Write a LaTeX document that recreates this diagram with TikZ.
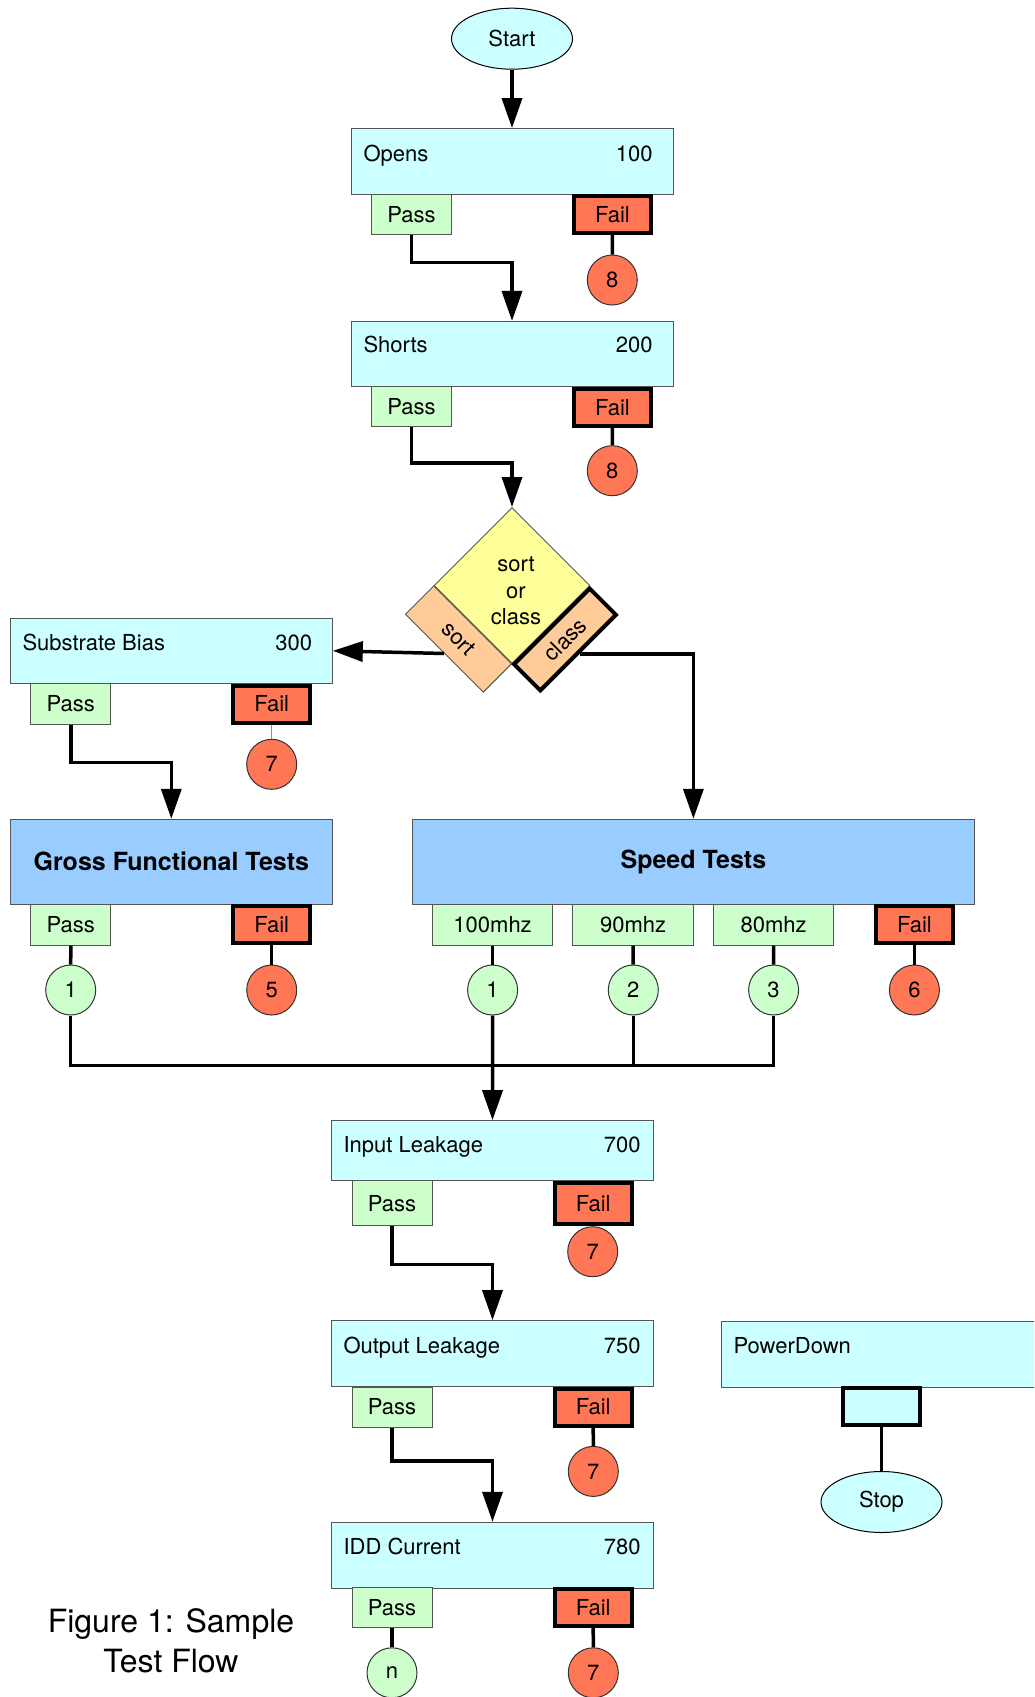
\documentclass[tikz,border=0pt]{standalone}
\usepackage{fontspec}
\setmainfont{TeX Gyre Heros}
\usetikzlibrary{arrows.meta,shapes.geometric}
\definecolor{testcyan}{HTML}{CCFFFF}
\definecolor{passgreen}{HTML}{CCFFCC}
\definecolor{failred}{HTML}{FF7755}
\definecolor{groupblue}{HTML}{99CCFF}
\definecolor{askyellow}{HTML}{FFFF99}
\definecolor{tabtan}{HTML}{FFCC99}
\definecolor{boxgray}{HTML}{555555}
\definecolor{wireblue}{HTML}{6699CC}
\tikzset{
  testbox/.style={draw=boxgray, line width=1pt, fill=testcyan, minimum width=322pt, minimum height=65.5pt, inner sep=0pt},
  boxtext/.style={inner sep=0pt},
  passbox/.style={draw=boxgray, line width=1pt, fill=passgreen, minimum width=80pt, minimum height=40pt, inner sep=0pt},
  failbox/.style={draw=black, line width=4pt, fill=failred, minimum width=77pt, minimum height=37pt, inner sep=0pt},
  passdot/.style={circle, draw=black!80, line width=1pt, fill=passgreen, minimum size=50pt, inner sep=0pt},
  faildot/.style={circle, draw=black!80, line width=1pt, fill=failred, minimum size=50pt, inner sep=0pt},
  groupbox/.style={draw=boxgray, line width=1pt, fill=groupblue, minimum height=85pt, font=\bfseries\fontsize{25}{30}\selectfont},
  terminal/.style={ellipse, draw, line width=1pt, fill=testcyan, minimum width=121pt, minimum height=61pt},
  decision/.style={draw=boxgray, line width=1pt, fill=askyellow, minimum size=110pt, rotate=45},
  choicetab/.style={draw=boxgray, line width=1pt, fill=tabtan, minimum width=110pt, minimum height=40pt, inner sep=0pt},
  flow/.style={line width=3.5pt},
  flowarrow/.style={flow, -{Triangle[length=30pt,width=20pt]}},
}
\begin{document}
\begin{tikzpicture}[x=1pt, y=-1pt, font=\fontsize{22}{26.5}\selectfont]
  \useasboundingbox (0,0) rectangle (1034,1697);
  \clip (0,0) rectangle (1034,1697);

  % start and opens
  \node[terminal] (start) at (512,38.7) {Start};
  \node[testbox] (opens) at (512,161.3) {};
  \node[boxtext, anchor=base west] (opensname) at (363.3,161.7) {Opens};
  \node[boxtext, anchor=base east] (opensnum) at (652.7,161.7) {100};
  \node[passbox] (openspass) at (411.5,214.3) {Pass};
  \node[failbox] (opensfail) at (612.5,214.7) {Fail};
  \node[faildot] (opensbin) at (612.3,280) {8};

  % shorts
  \node[testbox] (shorts) at (512,354.2) {};
  \node[boxtext, anchor=base west] (shortsname) at (363.3,352.7) {Shorts};
  \node[boxtext, anchor=base east] (shortsnum) at (652.7,352.7) {200};
  \node[passbox] (shortspass) at (411.5,406.7) {Pass};
  \node[failbox] (shortsfail) at (612.5,407.2) {Fail};
  \node[faildot] (shortsbin) at (612.3,470.7) {8};

  % sort or class
  \node[decision] (sortclass) at (512,585.5) {};
  \node[align=center] (question) at (516,591) {sort\\or\\class};
  \node[choicetab, rotate=-45] (sorttab) at (458.5,639) {sort};
  \node[choicetab, rotate=45, draw=black, line width=4pt, minimum width=107pt, minimum height=37pt] (classtab) at (565,639.5) {class};

  % substrate bias
  \node[testbox] (subst) at (171.3,650.8) {};
  \node[boxtext, anchor=base west] (substname) at (22.3,650.7) {Substrate Bias};
  \node[boxtext, anchor=base east] (substnum) at (312.3,650.7) {300};
  \node[passbox, minimum height=41pt] (substpass) at (70.8,703.7) {Pass};
  \node[failbox] (substfail) at (271.7,704) {Fail};
  \node[faildot] (substbin) at (271.7,764.3) {7};

  % gross functional and speed
  \node[groupbox, minimum width=322pt] (gross) at (171.3,861.8) {Gross Functional Tests};
  \node[passbox, minimum height=41pt] (grosspass) at (70.8,924.7) {Pass};
  \node[failbox] (grossfail) at (271.7,924.7) {Fail};
  \node[passdot] (grossbin) at (70.7,990) {1};
  \node[faildot] (grossreject) at (271.7,990) {5};

  \node[groupbox, minimum width=562.5pt] (speed) at (693.4,861.8) {Speed Tests};
  \node[passbox, minimum width=120.5pt, minimum height=41pt] (speedA) at (492.6,924.7) {100mhz};
  \node[passbox, minimum width=120.5pt, minimum height=41pt] (speedB) at (633.1,924.7) {90mhz};
  \node[passbox, minimum width=120.5pt, minimum height=41pt] (speedC) at (773.7,924.7) {80mhz};
  \node[failbox] (speedfail) at (914.4,924.7) {Fail};
  \node[passdot] (speedbinA) at (492.6,990) {1};
  \node[passdot] (speedbinB) at (633.3,990) {2};
  \node[passdot] (speedbinC) at (773.6,990) {3};
  \node[faildot] (speedreject) at (914.4,990) {6};

  % leakage
  \node[testbox, minimum height=60pt] (inleak) at (492.5,1150.7) {};
  \node[boxtext, anchor=base west] (inleakname) at (343.3,1152.3) {Input Leakage};
  \node[boxtext, anchor=base east] (inleaknum) at (640.7,1152.3) {700};
  \node[passbox, minimum height=45pt] (inleakpass) at (392,1203.4) {Pass};
  \node[failbox, minimum height=41pt] (inleakfail) at (593.2,1203.4) {Fail};
  \node[faildot] (inleakbin) at (592.7,1251.7) {7};

  \node[testbox, minimum height=66pt] (outleak) at (492.5,1353.7) {};
  \node[boxtext, anchor=base west] (outleakname) at (343.3,1353.3) {Output Leakage};
  \node[boxtext, anchor=base east] (outleaknum) at (640.7,1353.3) {750};
  \node[passbox] (outleakpass) at (392,1407) {Pass};
  \node[failbox] (outleakfail) at (593.2,1407) {Fail};
  \node[faildot] (outleakbin) at (593.3,1471.4) {7};

  % idd
  \node[testbox, minimum height=66pt] (idd) at (492.5,1555.3) {};
  \node[boxtext, anchor=base west] (iddname) at (343.3,1554.3) {IDD Current};
  \node[boxtext, anchor=base east] (iddnum) at (640.7,1554.3) {780};
  \node[passbox] (iddpass) at (392,1607.5) {Pass};
  \node[failbox] (iddfail) at (593.2,1607.5) {Fail};
  \node[passdot] (iddbin) at (392,1672.8) {n};
  \node[faildot] (iddreject) at (593.3,1672.8) {7};

  % powerdown
  \node[testbox] (powerdown) at (882,1354.5) {};
  \node[boxtext, anchor=base west] (powerdownname) at (733.3,1353.3) {PowerDown};
  \node[failbox, fill=testcyan] (powerdownexit) at (881.5,1406.3) {};
  \node[terminal] (stop) at (881.5,1502) {Stop};

  \node[align=center, font=\fontsize{32}{40}\selectfont] (caption) at (171,1641) {Figure 1: Sample\\Test Flow};

  % connectors
  \draw[flowarrow] (start) -- (opens.north);
  \draw[flow] (opensfail) -- (opensbin);
  \draw[flowarrow] (openspass.south) -- ++(0,27.7) -| (shorts.north);
  \draw[flow] (shortsfail) -- (shortsbin);
  \draw[flowarrow] (shortspass.south) -- ++(0,36) -| (sortclass.north east);
  \draw[flowarrow] (sorttab.south) -- (subst.east);
  \draw[flowarrow] (classtab.south) -| (speed.north);
  \draw[wireblue, line width=1pt] (substfail) -- (substbin);
  \draw[flowarrow] (substpass.south) -- ++(0,38) -| (gross.north);
  \draw[flow] (grosspass) -- (grossbin);
  \draw[flow] (grossfail) -- (grossreject);
  \draw[flow] (speedA) -- (speedbinA);
  \draw[flow] (speedB) -- (speedbinB);
  \draw[flow] (speedC) -- (speedbinC);
  \draw[flow] (speedfail) -- (speedreject);
  \coordinate (busend) at (773.6,1065.4);
  \draw[flow] (grossbin) |- (busend) -- (speedbinC);
  \draw[flow] (speedbinB) -- (speedbinB |- busend);
  \draw[flowarrow] (speedbinA) -- (inleak.north);
  \draw[flowarrow] (inleakpass.south) -- ++(0,38.3) -| (outleak.north);
  \draw[flow] (outleakfail) -- (outleakbin);
  \draw[flowarrow] (outleakpass.south) -- ++(0,33.5) -| (idd.north);
  \draw[flow] (iddpass) -- (iddbin);
  \draw[flow] (iddfail) -- (iddreject);
  \draw[line width=2.5pt] (powerdownexit) -- (stop);
\end{tikzpicture}
\end{document}
